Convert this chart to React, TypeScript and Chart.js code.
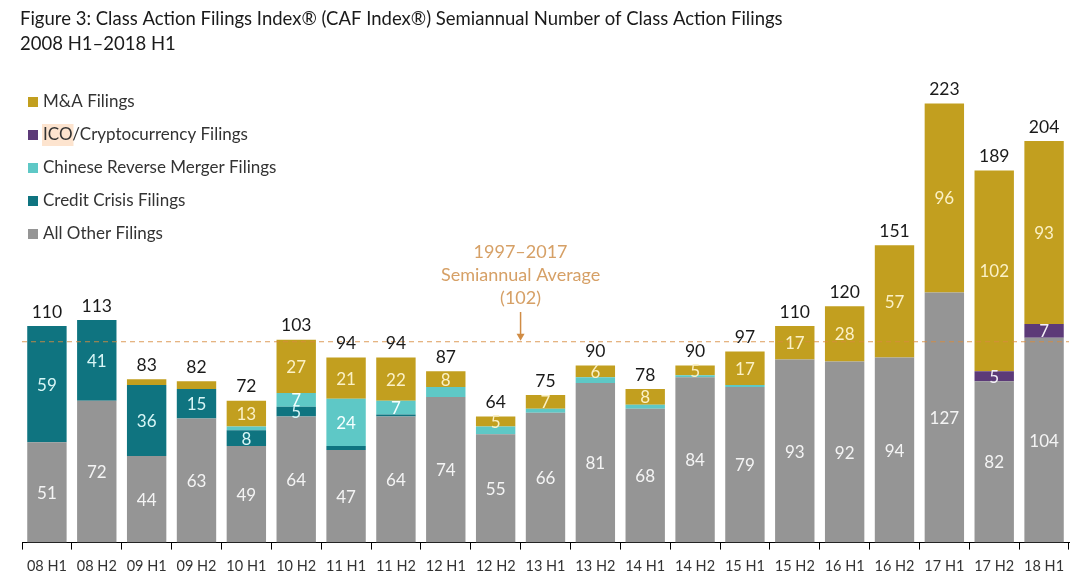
import React, { useEffect, useRef } from "react";
import { Chart, registerables } from "chart.js";

Chart.register(...registerables);

const categories = ["08 H1","08 H2","09 H1","09 H2","10 H1","10 H2","11 H1","11 H2","12 H1","12 H2","13 H1","13 H2","14 H1","14 H2","15 H1","15 H2","16 H1","16 H2","17 H1","17 H2","18 H1"];
const allOther = [51,72,44,63,49,64,47,64,74,55,66,81,68,84,79,93,92,94,127,82,104];
const creditCrisis = [59,41,36,15,8,5,2,1,0,0,0,0,0,0,0,0,0,0,0,0,0];
const chineseRM = [0,0,0,0,2,7,24,7,5,4,2,3,2,1,1,0,0,0,0,0,0];
const icoCrypto = [0,0,0,0,0,0,0,0,0,0,0,0,0,0,0,0,0,0,0,5,7];
const mna = [0,0,3,4,13,27,21,22,8,5,7,6,8,5,17,17,28,57,96,102,93];
const averageValue = 102;
const titleLines = ["Figure 3: Class Action Filings Index\u00AE (CAF Index\u00AE) Semiannual Number of Class Action Filings", "2008 H1\u20132018 H1"];
const averageLabel = ["1997\u20132017", "Semiannual Average", "(102)"];

const FONT = "Lato, 'Open Sans', sans-serif";

const seriesDefs = [
  { label: "All Other Filings", data: allOther, color: "#959595", text: "#f4f4f4", minLabel: 1 },
  { label: "Credit Crisis Filings", data: creditCrisis, color: "#0f7480", text: "#d8f6f6", minLabel: 5 },
  { label: "Chinese Reverse Merger Filings", data: chineseRM, color: "#5ec8c6", text: "#f4ffff", minLabel: 6 },
  { label: "ICO/Cryptocurrency Filings", data: icoCrypto, color: "#5c3a78", text: "#f4f0f8", minLabel: 1 },
  { label: "M&A Filings", data: mna, color: "#c29f1f", text: "#fbf1c6", minLabel: 5 },
];

const overlay = {
  id: "overlay",
  afterDatasetsDraw(chart: any) {
    const { ctx, chartArea, scales } = chart;
    const y = scales.y;
    const x = scales.x;
    const ay = y.getPixelForValue(averageValue);
    ctx.save();
    ctx.strokeStyle = "rgba(216,140,64,0.85)";
    ctx.lineWidth = 1;
    ctx.setLineDash([5, 4]);
    ctx.beginPath();
    ctx.moveTo(chartArea.left, ay);
    ctx.lineTo(chartArea.right, ay);
    ctx.stroke();
    ctx.restore();

    ctx.save();
    ctx.font = `17px ${FONT}`;
    ctx.textAlign = "center";
    ctx.textBaseline = "middle";
    seriesDefs.forEach((s, di) => {
      const meta = chart.getDatasetMeta(di);
      meta.data.forEach((el: any, i: number) => {
        const v = s.data[i];
        if (!v || v < s.minLabel) return;
        ctx.fillStyle = s.text;
        ctx.fillText(String(v), el.x, (el.y + el.base) / 2 + 1);
      });
    });
    ctx.fillStyle = "#1a1a1a";
    ctx.font = `17.5px ${FONT}`;
    categories.forEach((_, i) => {
      const total = seriesDefs.reduce((a, s) => a + s.data[i], 0);
      ctx.fillText(String(total), x.getPixelForValue(i), y.getPixelForValue(total) - 14);
    });
    ctx.restore();

    const axp = (x.getPixelForValue(9) + x.getPixelForValue(10)) / 2;
    ctx.save();
    ctx.fillStyle = "#d6a066";
    ctx.font = `18px ${FONT}`;
    ctx.textAlign = "center";
    ctx.textBaseline = "middle";
    averageLabel.forEach((t, k) => ctx.fillText(t, axp, 252 + k * 23));
    ctx.strokeStyle = "#d08c45";
    ctx.fillStyle = "#d08c45";
    ctx.lineWidth = 1.5;
    ctx.beginPath();
    ctx.moveTo(axp, 312);
    ctx.lineTo(axp, ay - 6);
    ctx.stroke();
    ctx.beginPath();
    ctx.moveTo(axp - 4, ay - 8);
    ctx.lineTo(axp + 4, ay - 8);
    ctx.lineTo(axp, ay - 1);
    ctx.closePath();
    ctx.fill();
    ctx.restore();
  },
  afterDraw(chart: any) {
    const { ctx } = chart;
    ctx.save();
    ctx.fillStyle = "#1a1a1a";
    ctx.font = `18.5px ${FONT}`;
    ctx.textAlign = "left";
    ctx.textBaseline = "middle";
    titleLines.forEach((t, k) => ctx.fillText(t, 20, 19 + k * 25));
    const order = [4, 3, 2, 1, 0];
    ctx.font = `17px ${FONT}`;
    order.forEach((di, k) => {
      const s = seriesDefs[di];
      const cy = 102 + k * 33;
      if (di === 3) {
        ctx.fillStyle = "#fde4cf";
        const w = ctx.measureText("ICO").width;
        ctx.fillRect(42, cy - 11, w + 2, 22);
      }
      ctx.fillStyle = s.color;
      ctx.fillRect(28, cy - 5, 10, 10);
      ctx.fillStyle = "#333333";
      ctx.fillText(s.label, 43, cy);
    });
    ctx.restore();
  },
};

export default function App() {
  const ref = useRef<HTMLCanvasElement | null>(null);
  useEffect(() => {
    document.body.style.margin = "0";
    if (!ref.current) return;
    const chart = new Chart(ref.current, {
      type: "bar",
      data: {
        labels: categories,
        datasets: seriesDefs.map((s) => ({
          label: s.label,
          data: s.data,
          backgroundColor: s.color,
          borderWidth: 0,
          categoryPercentage: 1,
          barPercentage: 0.79,
        })),
      },
      options: {
        animation: false,
        responsive: false,
        devicePixelRatio: 1,
        layout: { padding: { top: 70, left: 22, right: 18, bottom: 3 } },
        plugins: { legend: { display: false }, tooltip: { enabled: false }, title: { display: false } },
        scales: {
          x: {
            stacked: true,
            border: { display: true, color: "#000", width: 1 },
            grid: { display: true, drawOnChartArea: false, drawTicks: true, tickLength: 7, offset: true, color: "#000" },
            ticks: { color: "#333", font: { family: FONT, size: 14.5 }, padding: 8, maxRotation: 0, autoSkip: false },
          },
          y: {
            stacked: true,
            display: false,
            min: 0,
            max: 240,
          },
        },
      },
      plugins: [overlay],
    });
    return () => chart.destroy();
  }, []);
  return (
    <div style={{ width: 1087, height: 586, background: "#fff" }}>
      <canvas ref={ref} width={1087} height={586} style={{ width: 1087, height: 586, display: "block" }} />
    </div>
  );
}
